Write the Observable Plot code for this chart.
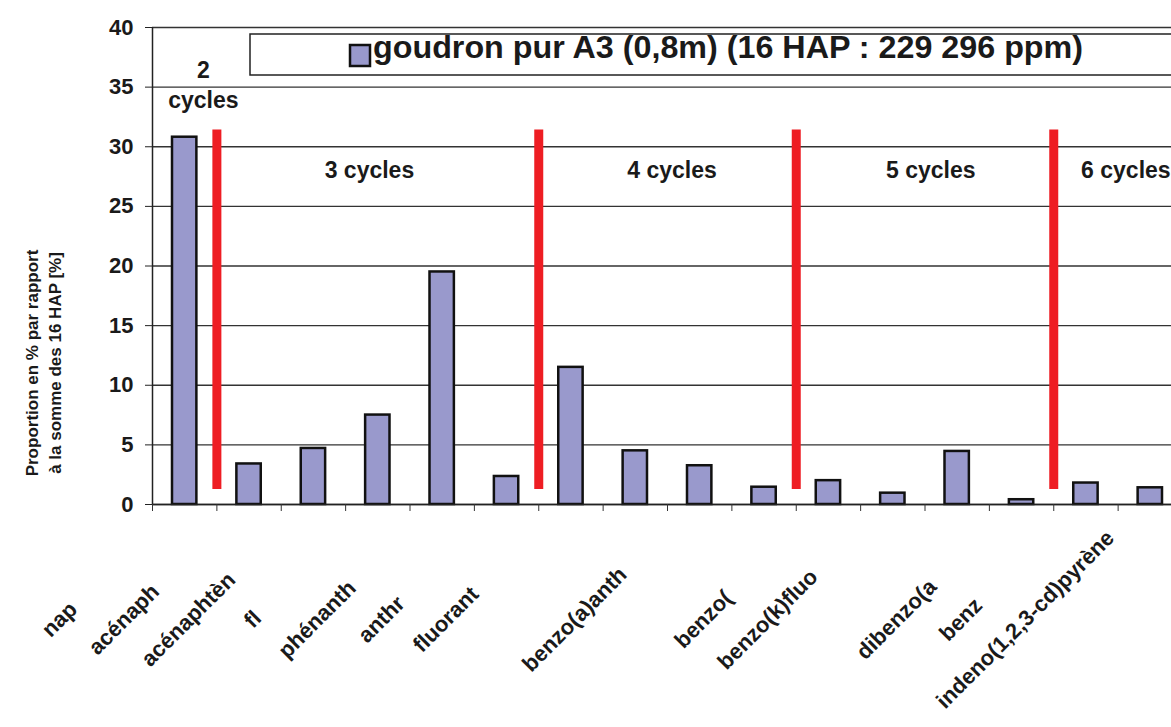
<!DOCTYPE html>
<html><head><meta charset="utf-8">
<script src="https://cdn.jsdelivr.net/npm/d3@7"></script>
<script src="https://cdn.jsdelivr.net/npm/@observablehq/plot@0.6"></script>
<style>
html,body{margin:0;padding:0;background:#fff;}
#wrap{position:relative;width:1171px;height:727px;overflow:hidden;font-family:"Liberation Sans",Arial,sans-serif;}
#legend{position:absolute;left:0;top:0;}
</style></head><body>
<div id="wrap"><div id="chart"></div><svg id="legend" width="1171" height="727"></svg></div>
<script>
// Data
const categories = ["naphtalène","acénaphtylène","acénaphtène","fluorène","phénanthrène","anthracène","fluoranthène","pyrène","benzo(a)anthracène","chrysène","benzo(b)fluoranthène","benzo(k)fluoranthène","benzo(a)pyrène","dibenzo(a,h)anthracène","benzo(g,h,i)pérylène","indeno(1,2,3-cd)pyrène"];
// visible (truncated) tick labels as printed in the reference
const tickLabels = ["nap","acénaph","acénaphtèn","fl","phénanth","anthr","fluorant","","benzo(a)anth","","benzo(","benzo(k)fluo","","dibenzo(a","benz","indeno(1,2,3-cd)pyrène"];
const values = [30.8, 3.4, 4.7, 7.5, 19.5, 2.35, 11.5, 4.5, 3.25, 1.45, 2.0, 0.95, 4.45, 0.4, 1.8, 1.4];
const seriesName = "goudron pur A3 (0,8m) (16 HAP : 229 296 ppm)";
const yTicks = [0, 5, 10, 15, 20, 25, 30, 35, 40];
const yLabel = "Proportion en % par rapport\nà la somme des 16 HAP [%]";
const cycleLabels = ["2\ncycles", "3 cycles", "4 cycles", "5 cycles", "6 cycles"];
const cyclePos = [0.79, 3.37, 8.07, 12.09, 15.12];
const cycleLevel = [35.3, 28.2, 28.2, 28.2, 28.2];
const cycleBounds = [1, 6, 10, 14];
const boundLow = 1.25, boundHigh = 31.4;

const rows = categories.map((c, i) => ({name: c, i, value: values[i], label: tickLabels[i]}));
const cycles = cycleLabels.map((t, k) => ({t, x: cyclePos[k], y: cycleLevel[k]}));
const ink = "#1a1a1a";

const chart = Plot.plot({
  width: 1171, height: 727,
  marginLeft: 152, marginRight: -11, marginTop: 27, marginBottom: 223,
  style: {fontFamily: "'Liberation Sans', Arial, sans-serif", background: "white"},
  x: {domain: [0, categories.length], axis: null},
  y: {domain: [0, 40], axis: null},
  marks: [
    Plot.gridY(yTicks, {stroke: "#333", strokeOpacity: 1, strokeWidth: 1.3}),
    Plot.rectY(rows, {x1: "i", x2: d => d.i + 1, y: "value", insetLeft: 20, insetRight: 20,
      fill: "#9999cc", stroke: "#111", strokeWidth: 2.5}),
    Plot.ruleX(cycleBounds, {x: d => d, y1: boundLow, y2: boundHigh, stroke: "#ee1d23", strokeWidth: 9}),
    Plot.ruleY([0], {stroke: "#222", strokeWidth: 1.5}),
    Plot.ruleX([0], {stroke: "#222", strokeWidth: 1.5}),
    Plot.axisY(yTicks, {tickSize: 7, tickPadding: 12, fontSize: 22, fontWeight: "bold", color: ink, stroke: "#222", label: null}),
    Plot.axisX(d3.range(categories.length + 1), {tickSize: 7, tickFormat: () => "", stroke: "#333", label: null}),
    Plot.text(rows, {x: d => d.i + 0.5, text: "label", frameAnchor: "bottom", rotate: -45, textAnchor: "middle",
      dx: -120, dy: 120, fontSize: 22, fontWeight: "bold", fill: ink}),
    Plot.text(cycles, {x: "x", y: "y", text: "t", fontSize: 23, fontWeight: "bold", fill: ink, lineHeight: 1.3}),
    Plot.text([yLabel], {frameAnchor: "left", textAnchor: "middle", rotate: -90, dx: -110, dy: 97,
      fontSize: 17, fontWeight: "bold", fill: ink, lineHeight: 1.35})
  ]
});
document.getElementById("chart").appendChild(chart);

// Legend (inside the plot area, top)
const lg = d3.select("#legend");
lg.append("rect").attr("x", 250).attr("y", 34).attr("width", 960).attr("height", 41)
  .attr("fill", "white").attr("stroke", "#222").attr("stroke-width", 1.5);
lg.append("rect").attr("x", 350).attr("y", 45).attr("width", 20).attr("height", 21)
  .attr("fill", "#9999cc").attr("stroke", "#111").attr("stroke-width", 2.5);
lg.append("text").attr("x", 373).attr("y", 58).attr("font-size", 31).attr("font-weight", "bold")
  .attr("font-family", "'Liberation Sans', Arial, sans-serif").attr("fill", ink)
  .attr("textLength", 710).attr("lengthAdjust", "spacingAndGlyphs").text(seriesName);
</script>
</body></html>
